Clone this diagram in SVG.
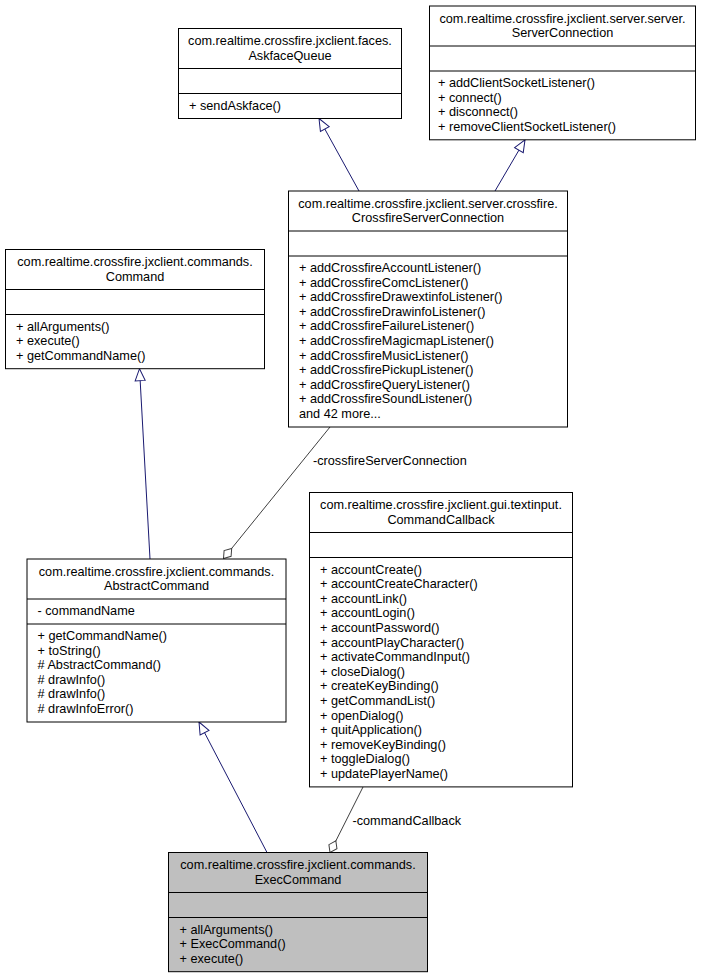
<svg xmlns="http://www.w3.org/2000/svg" width="701" height="979" viewBox="0 0 701 979">
<style>
  .box { fill: #ffffff; stroke: #000000; stroke-width: 1; }
  .cur { fill: #bfbfbf; stroke: #000000; stroke-width: 1; }
  .div { stroke: #000000; stroke-width: 1; fill: none; }
  text { font-family: "Liberation Sans", Arial, sans-serif; font-size: 12.7px; fill: #000000; }
  .t { text-anchor: middle; }
  .inh { stroke: #191970; stroke-width: 1; fill: none; marker-end: url(#tri); }
  .agg { stroke: #404040; stroke-width: 1; fill: none; marker-end: url(#dia); }
</style>
<defs>
  <marker id="tri" markerUnits="userSpaceOnUse" orient="auto" refX="12" refY="0" markerWidth="14" markerHeight="14" overflow="visible">
    <path d="M0,-5 L12,0 L0,5 Z" fill="#ffffff" stroke="#191970" stroke-width="1"/>
  </marker>
  <marker id="dia" markerUnits="userSpaceOnUse" orient="auto" refX="13" refY="0" markerWidth="16" markerHeight="16" overflow="visible">
    <path d="M0,0 L6.5,-4.5 L13,0 L6.5,4.5 Z" fill="#ffffff" stroke="#404040" stroke-width="1"/>
  </marker>
</defs>
<rect width="701" height="979" fill="#ffffff"/>

<g id="connectors">
  <path class="inh" d="M359,191 L319,118.5"/>
  <path class="inh" d="M495,191 L525,139.8"/>
  <path class="inh" d="M150,559 L139.5,368.7"/>
  <path class="inh" d="M267,852.5 L199,722"/>
  <path class="agg" d="M330,427 L223.5,558.5"/>
  <path class="agg" d="M363,787 L330,852.5"/>
  <text x="313" y="464.5">-crossfireServerConnection</text>
  <text x="352.5" y="824.5">-commandCallback</text>
</g>

<g id="node_AskfaceQueue">
  <rect class="box" x="178.5" y="28.5" width="223" height="90"/>
  <path class="div" d="M178.5,68.5 H401.5 M178.5,93.5 H401.5"/>
  <text class="t" x="290" y="45">com.realtime.crossfire.jxclient.faces.</text>
  <text class="t" x="290" y="59.5">AskfaceQueue</text>
  <text x="189" y="109.5">+ sendAskface()</text>
</g>

<g id="node_ServerConnection">
  <rect class="box" x="429.5" y="6" width="266" height="133.8"/>
  <path class="div" d="M429.5,46 H695.5 M429.5,71 H695.5"/>
  <text class="t" x="562.5" y="22.5">com.realtime.crossfire.jxclient.server.server.</text>
  <text class="t" x="562.5" y="37">ServerConnection</text>
  <text x="438" y="87">+ addClientSocketListener()</text>
  <text x="438" y="101.6">+ connect()</text>
  <text x="438" y="116.2">+ disconnect()</text>
  <text x="438" y="130.8">+ removeClientSocketListener()</text>
</g>

<g id="node_CrossfireServerConnection">
  <rect class="box" x="288.5" y="191" width="279" height="236"/>
  <path class="div" d="M288.5,231 H567.5 M288.5,256 H567.5"/>
  <text class="t" x="428" y="207.5">com.realtime.crossfire.jxclient.server.crossfire.</text>
  <text class="t" x="428" y="222">CrossfireServerConnection</text>
  <text x="299" y="272">+ addCrossfireAccountListener()</text>
  <text x="299" y="286.6">+ addCrossfireComcListener()</text>
  <text x="299" y="301.2">+ addCrossfireDrawextinfoListener()</text>
  <text x="299" y="315.8">+ addCrossfireDrawinfoListener()</text>
  <text x="299" y="330.4">+ addCrossfireFailureListener()</text>
  <text x="299" y="345">+ addCrossfireMagicmapListener()</text>
  <text x="299" y="359.6">+ addCrossfireMusicListener()</text>
  <text x="299" y="374.2">+ addCrossfirePickupListener()</text>
  <text x="299" y="388.8">+ addCrossfireQueryListener()</text>
  <text x="299" y="403.4">+ addCrossfireSoundListener()</text>
  <text x="299" y="418">and 42 more...</text>
</g>

<g id="node_Command">
  <rect class="box" x="5.5" y="249.5" width="259" height="119.2"/>
  <path class="div" d="M5.5,289.5 H264.5 M5.5,314.5 H264.5"/>
  <text class="t" x="135" y="266">com.realtime.crossfire.jxclient.commands.</text>
  <text class="t" x="135" y="280.5">Command</text>
  <text x="16" y="330.5">+ allArguments()</text>
  <text x="16" y="345.1">+ execute()</text>
  <text x="16" y="359.7">+ getCommandName()</text>
</g>

<g id="node_AbstractCommand">
  <rect class="box" x="27" y="559" width="259" height="163"/>
  <path class="div" d="M27,599 H286 M27,624 H286"/>
  <text class="t" x="156.5" y="575.5">com.realtime.crossfire.jxclient.commands.</text>
  <text class="t" x="156.5" y="590">AbstractCommand</text>
  <text x="37.5" y="615">- commandName</text>
  <text x="37.5" y="640">+ getCommandName()</text>
  <text x="37.5" y="654.6">+ toString()</text>
  <text x="37.5" y="669.2"># AbstractCommand()</text>
  <text x="37.5" y="683.8"># drawInfo()</text>
  <text x="37.5" y="698.4"># drawInfo()</text>
  <text x="37.5" y="713"># drawInfoError()</text>
</g>

<g id="node_CommandCallback">
  <rect class="box" x="309.5" y="492.5" width="263" height="294.4"/>
  <path class="div" d="M309.5,532.5 H572.5 M309.5,557.5 H572.5"/>
  <text class="t" x="441" y="509">com.realtime.crossfire.jxclient.gui.textinput.</text>
  <text class="t" x="441" y="523.5">CommandCallback</text>
  <text x="320" y="573.5">+ accountCreate()</text>
  <text x="320" y="588.1">+ accountCreateCharacter()</text>
  <text x="320" y="602.7">+ accountLink()</text>
  <text x="320" y="617.3">+ accountLogin()</text>
  <text x="320" y="631.9">+ accountPassword()</text>
  <text x="320" y="646.5">+ accountPlayCharacter()</text>
  <text x="320" y="661.1">+ activateCommandInput()</text>
  <text x="320" y="675.7">+ closeDialog()</text>
  <text x="320" y="690.3">+ createKeyBinding()</text>
  <text x="320" y="704.9">+ getCommandList()</text>
  <text x="320" y="719.5">+ openDialog()</text>
  <text x="320" y="734.1">+ quitApplication()</text>
  <text x="320" y="748.7">+ removeKeyBinding()</text>
  <text x="320" y="763.3">+ toggleDialog()</text>
  <text x="320" y="777.9">+ updatePlayerName()</text>
</g>

<g id="node_ExecCommand">
  <rect class="cur" x="168.5" y="852.5" width="259" height="119.2"/>
  <path class="div" d="M168.5,892.5 H427.5 M168.5,917.5 H427.5"/>
  <text class="t" x="298" y="869">com.realtime.crossfire.jxclient.commands.</text>
  <text class="t" x="298" y="883.5">ExecCommand</text>
  <text x="179.5" y="933.5">+ allArguments()</text>
  <text x="179.5" y="948.1">+ ExecCommand()</text>
  <text x="179.5" y="962.7">+ execute()</text>
</g>
</svg>
